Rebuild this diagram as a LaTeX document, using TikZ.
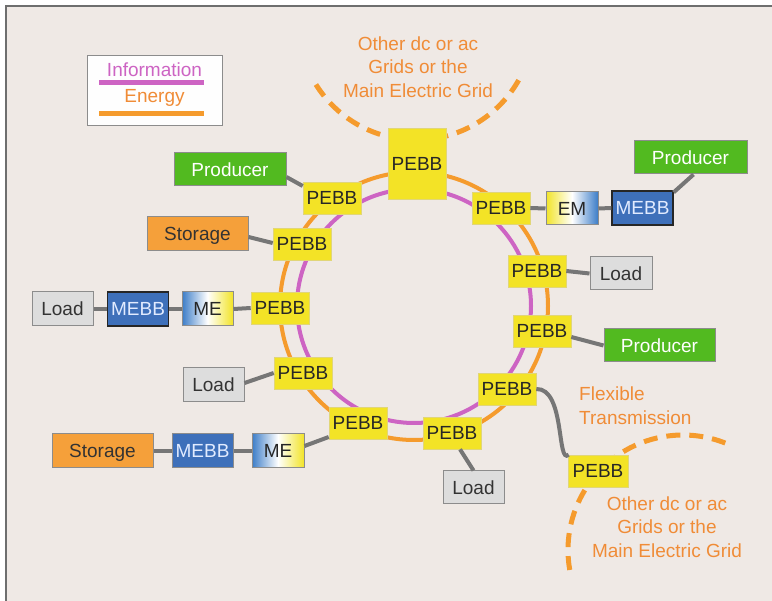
\documentclass[tikz,border=0pt]{standalone}
\usepackage{fontspec}
\setmainfont{Liberation Sans}
\definecolor{bg}{RGB}{239,233,229}
\definecolor{framec}{RGB}{110,110,110}
\definecolor{pebbc}{RGB}{243,227,38}
\definecolor{pebbline}{RGB}{225,214,120}
\definecolor{prodg}{RGB}{82,186,32}
\definecolor{storo}{RGB}{245,160,58}
\definecolor{loadg}{RGB}{221,221,221}
\definecolor{mebbc}{RGB}{62,112,186}
\definecolor{ringo}{RGB}{245,155,45}
\definecolor{ringm}{RGB}{205,100,195}
\definecolor{txto}{RGB}{240,140,55}
\definecolor{conng}{RGB}{118,118,118}
\definecolor{boxg}{RGB}{140,140,140}
\definecolor{meb}{RGB}{60,125,200}
\definecolor{mey}{RGB}{242,228,40}
\definecolor{mebbtxt}{RGB}{225,235,255}
\tikzset{
  base/.style={inner sep=0pt, font=\fontsize{19}{23.5}\selectfont, text height=13.6pt, text depth=0pt},
  pebbst/.style={base, fill=pebbc, draw=pebbline, line width=0.6pt, minimum width=58pt, minimum height=32pt, text=black!85},
  prodst/.style={base, fill=prodg, draw=boxg, line width=1pt, minimum width=112pt, minimum height=33pt, text=white},
  storst/.style={base, fill=storo, draw=boxg, line width=1pt, minimum width=101pt, minimum height=34pt, text=black!80},
  loadst/.style={base, fill=loadg, draw=boxg, line width=1pt, minimum width=61pt, minimum height=34pt, text=black!80},
  mebbst/.style={base, fill=mebbc, draw=black!85, line width=1.3pt, minimum width=61pt, minimum height=34pt, text=mebbtxt},
  mest/.style={base, left color=meb, right color=mey, middle color=white, draw=boxg, line width=1pt, minimum width=51pt, minimum height=34pt, text=black!85},
  emst/.style={base, left color=mey, right color=meb, middle color=white, draw=boxg, line width=1pt, minimum width=52pt, minimum height=33pt, text=black!85},
  conn/.style={draw=conng, line width=4pt},
  orangetxt/.style={inner sep=0pt, font=\fontsize{19}{23.5}\selectfont, text=txto},
  gridarc/.style={draw=ringo, line width=5pt, dash pattern=on 14pt off 9pt},
}
\begin{document}
\begin{tikzpicture}[x=1pt,y=1pt]
\useasboundingbox (0,0) rectangle (772,-601);
\clip (0,0) rectangle (772,-601);
\fill[white] (0,0) rectangle (772,-601);
\filldraw[fill=bg, draw=framec, line width=2pt] (6,-6) rectangle (800,-630);

% dashed grid arcs
\draw[gridarc] (416,-22) ++(212:118) arc[start angle=212, end angle=333, radius=118];
\draw[gridarc] (683,-550) ++(190:115) arc[start angle=190, end angle=66, radius=115];

% rings
\draw[ringo, line width=4pt] (414,-306) circle[radius=134];
\draw[ringm, line width=4pt] (414,-306) circle[radius=117];

% legend
\node[draw=boxg, fill=white!96!bg, line width=1pt, minimum width=135pt, minimum height=70pt, inner sep=0pt] (leg) at (154.5,-91) {};
\node[orangetxt, text=ringm] (info) at (154.5,-70) {Information};
\node[orangetxt] (ener) at (154.5,-98) {Energy};
\draw[ringm, line width=5pt] (99,-83) -- (204,-83);
\draw[ringo, line width=5pt] (99,-114) -- (204,-114);

% texts
\node[orangetxt, align=center] (gridtop) at (418,-67) {Other dc or ac\\Grids or the\\Main Electric Grid};
\node[orangetxt, align=center] (gridbot) at (667,-527) {Other dc or ac\\Grids or the\\Main Electric Grid};
\node[orangetxt, align=left, anchor=west] (flex) at (579,-405.5) {Flexible\\Transmission};

% PEBBs
\node[pebbst, minimum height=71pt] (pbig) at (417,-163.5) {PEBB};
\node[pebbst] (p1) at (332,-198) {PEBB};
\node[pebbst] (p2) at (302,-244) {PEBB};
\node[pebbst] (p3) at (280,-308) {PEBB};
\node[pebbst] (p4) at (303,-373) {PEBB};
\node[pebbst] (p5) at (358,-423) {PEBB};
\node[pebbst] (p6) at (452,-433) {PEBB};
\node[pebbst] (p7) at (507,-389) {PEBB};
\node[pebbst] (p8) at (542,-331) {PEBB};
\node[pebbst] (p9) at (537,-271) {PEBB};
\node[pebbst] (p10) at (501,-208) {PEBB};
\node[pebbst, minimum width=60pt] (pflex) at (598,-471) {PEBB};

% left side
\node[prodst] (prodL) at (230,-169.5) {Producer};
\node[storst] (storT) at (197.5,-233.5) {Storage};
\node[loadst] (loadL) at (62.5,-309) {Load};
\node[mebbst] (mebbL) at (138,-309) {MEBB};
\node[mest] (meL) at (207.5,-309) {ME};
\node[loadst] (loadM) at (213.5,-385) {Load};
\node[storst] (storB) at (102.5,-451) {Storage};
\node[mebbst, draw=boxg, line width=1pt] (mebbB) at (202.5,-451) {MEBB};
\node[mest, minimum width=52pt] (meB) at (278,-451) {ME};

% right side
\node[emst] (em) at (572,-208.5) {EM};
\node[mebbst] (mebbR) at (642.5,-208) {MEBB};
\node[prodst, minimum width=113pt] (prodR) at (690.5,-157.5) {Producer};
\node[loadst, minimum width=62pt, minimum height=33pt] (loadR) at (621,-273.5) {Load};
\node[prodst, minimum width=111pt] (prodR2) at (659.5,-345.5) {Producer};
\node[loadst, minimum height=33pt] (loadB) at (473.5,-487.5) {Load};

% connectors
\draw[conn] ([yshift=-7.5pt]prodL.east) -- ([yshift=12pt]p1.west);
\draw[conn] ([yshift=-3.5pt]storT.east) -- ([yshift=1pt]p2.west);
\draw[conn] (loadL.east) -- (mebbL.west);
\draw[conn] (mebbL.east) -- (meL.west);
\draw[conn] (meL.east) -- (p3.west);
\draw[conn] ([yshift=2pt]loadM.east) -- (p4.west);
\draw[conn] (storB.east) -- (mebbB.west);
\draw[conn] (mebbB.east) -- (meB.west);
\draw[conn] ([yshift=5pt]meB.east) -- ([yshift=-14pt]p5.west);
\draw[conn] (p10.east) -- (em.west);
\draw[conn] (em.east) -- (mebbR.west);
\draw[conn] ([yshift=-2pt]mebbR.north east) -- ([xshift=3pt]prodR.south);
\draw[conn] (p9.east) -- (loadR.west);
\draw[conn] ([yshift=-6pt]p8.east) -- (prodR2.west);
\draw[conn] ([xshift=8pt]p6.south) -- (loadB.north);
\draw[conn] (p7.east) .. controls +(29,1) and +(-12,-11) .. ([xshift=1pt]pflex.north west);
\end{tikzpicture}
\end{document}
